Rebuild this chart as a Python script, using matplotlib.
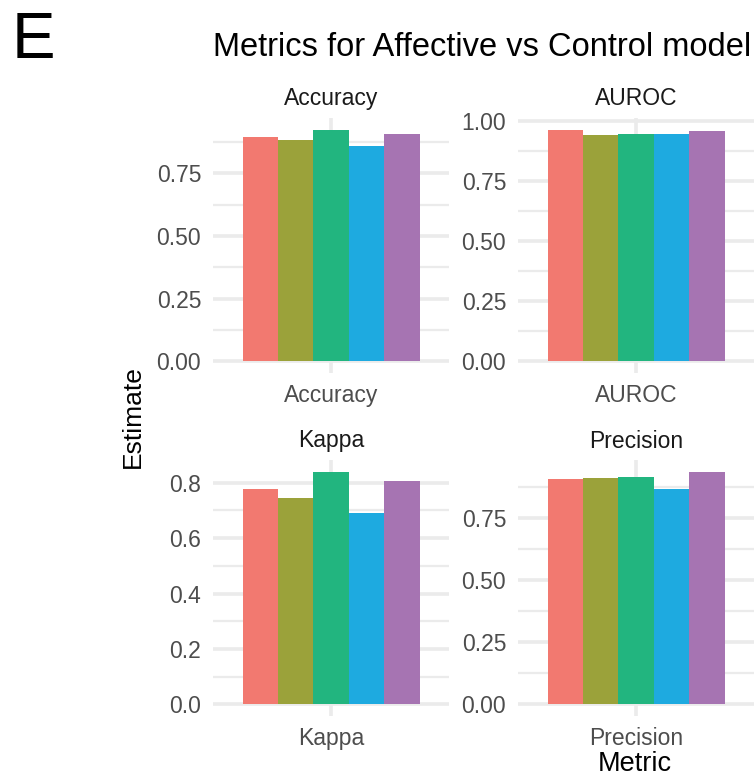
import matplotlib.pyplot as plt
import numpy as np

plt.rcParams['font.family'] = ['Liberation Sans', 'DejaVu Sans']

metrics = ["Accuracy", "AUROC", "Kappa", "Precision"]
colors = ["#F27970", "#9BA23A", "#22B57F", "#1EAAE0", "#A674B2"]

accuracy = [0.897, 0.882, 0.925, 0.858, 0.909]
auroc = [0.963, 0.942, 0.946, 0.946, 0.959]
kappa = [0.778, 0.746, 0.840, 0.692, 0.807]
precision = [0.907, 0.911, 0.915, 0.866, 0.935]
values = [accuracy, auroc, kappa, precision]

yticks = [[0, 0.25, 0.5, 0.75], [0, 0.25, 0.5, 0.75, 1.0],
          [0, 0.2, 0.4, 0.6, 0.8], [0, 0.25, 0.5, 0.75]]
ylabels = [["0.00", "0.25", "0.50", "0.75"],
           ["0.00", "0.25", "0.50", "0.75", "1.00"],
           ["0.0", "0.2", "0.4", "0.6", "0.8"],
           ["0.00", "0.25", "0.50", "0.75"]]

W, H = 755, 776
fig = plt.figure(figsize=(W / 100, H / 100), dpi=100)

# panel boxes in pixels: left, top, width, height
boxes = [(213, 118, 236, 255), (518, 118, 236, 255),
         (213, 460, 236, 256), (518, 460, 236, 256)]

grid = "#EBEBEB"
bw = 0.18
for i, m in enumerate(metrics):
    l, t, w, h = boxes[i]
    ax = fig.add_axes([l / W, (H - t - h) / H, w / W, h / H])
    vals = values[i]
    x = (np.arange(5) - 2) * bw
    ax.bar(x, vals, width=bw, color=colors, zorder=3)
    top = max(vals)
    ax.set_ylim(-0.05 * top, top * 1.05)
    ax.set_xlim(-0.6, 0.6)
    tk = yticks[i]
    step = tk[1] - tk[0]
    minor = [v + step / 2 for v in tk if v + step / 2 < top * 1.05]
    for v in tk:
        ax.axhline(v, color=grid, lw=2.6, zorder=1)
    for v in minor:
        ax.axhline(v, color=grid, lw=1.6, zorder=1)
    ax.axvline(0, color=grid, lw=2.6, zorder=1)
    ax.set_yticks(tk)
    ax.set_yticklabels(ylabels[i])
    ax.set_xticks([0])
    ax.set_xticklabels([m])
    ax.tick_params(length=0, labelsize=16.5, colors="#4D4D4D", pad=8.5)
    ax.tick_params(axis="x", pad=8)
    for s in ax.spines.values():
        s.set_visible(False)
    ax.text(0.5, 1 + 19 / h, m, transform=ax.transAxes, ha="center",
            va="center", fontsize=16.5, color="#1A1A1A")

fig.text(213 / W, 1 - 47 / H, "Metrics for Affective vs Control model",
         fontsize=23.5, ha="left", va="center")
fig.text(12 / W, 1 - 41 / H, "E", fontsize=47, ha="left", va="center")
fig.text(133 / W, 1 - 417 / H, "Estimate", fontsize=19, rotation=90,
         ha="center", va="center")
fig.text(635 / W, 1 - 764 / H, "Metric", fontsize=19.5, ha="center", va="center")

fig.savefig("out.png", dpi=100)
